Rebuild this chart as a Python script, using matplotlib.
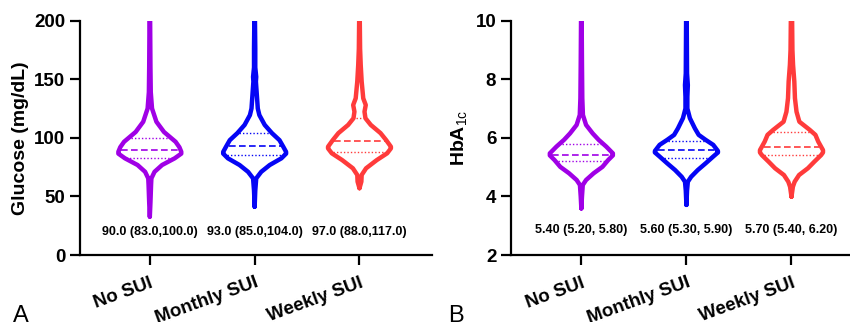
import matplotlib.pyplot as plt
import numpy as np

plt.rcParams['font.family'] = ['Liberation Sans', 'DejaVu Sans']
plt.rcParams['mathtext.fontset'] = 'custom'
plt.rcParams['mathtext.rm'] = 'Liberation Sans'
plt.rcParams['mathtext.bf'] = 'Liberation Sans:bold'

groups = ['No SUI', 'Monthly SUI', 'Weekly SUI']
colors = ['#A000E6', '#0505F5', '#FF3B3B']

# glucose: median, q1, q3
glu_med = [90.0, 93.0, 97.0]
glu_q1 = [83.0, 85.0, 88.0]
glu_q3 = [100.0, 104.0, 117.0]
glu_text = ['90.0 (83.0,100.0)', '93.0 (85.0,104.0)', '97.0 (88.0,117.0)']

# violin outlines: levels and relative half width
glu_levels = [
    [32.7, 45, 60, 65.4, 71, 76.8, 82.5, 86.5, 88.1, 92, 96.6, 105, 113.7, 125, 139, 160, 200],
    [41.2, 55, 65.4, 71, 76.8, 82.5, 86.5, 88, 92.4, 98, 104, 111, 119.4, 125, 136.5, 148, 152, 160, 176, 200],
    [57, 62.6, 68.3, 74, 81, 86.8, 91, 92.4, 98, 104, 111, 116.7, 122.3, 128, 133.7, 148, 162, 176, 200],
]
glu_width = [
    [0.0, 0.02, 0.04, 0.05, 0.15, 0.39, 0.79, 1.0, 1.0, 0.94, 0.82, 0.45, 0.21, 0.07, 0.03, 0.02, 0.01],
    [0.0, 0.02, 0.05, 0.21, 0.48, 0.85, 1.0, 1.0, 0.91, 0.79, 0.55, 0.32, 0.15, 0.10, 0.07, 0.04, 0.05, 0.02, 0.02, 0.01],
    [0.0, 0.06, 0.07, 0.21, 0.55, 0.88, 1.0, 1.0, 0.85, 0.67, 0.36, 0.19, 0.16, 0.20, 0.12, 0.07, 0.04, 0.02, 0.01],
]

# HbA1c: median, q1, q3
hba_med = [5.40, 5.60, 5.70]
hba_q1 = [5.20, 5.30, 5.40]
hba_q3 = [5.80, 5.90, 6.20]
hba_text = ['5.40 (5.20, 5.80)', '5.60 (5.30, 5.90)', '5.70 (5.40, 6.20)']

hba_levels = [
    [3.59, 4.0, 4.39, 4.56, 4.79, 5.01, 5.24, 5.4, 5.47, 5.70, 5.93, 6.15, 6.44, 6.78, 7.35, 8.5, 10],
    [3.71, 4.2, 4.50, 4.67, 4.90, 5.13, 5.36, 5.50, 5.55, 5.76, 5.93, 6.10, 6.32, 6.67, 7.0, 7.4, 7.8, 8.2, 10],
    [3.99, 4.33, 4.50, 4.73, 4.96, 5.19, 5.41, 5.50, 5.58, 5.87, 6.10, 6.27, 6.55, 6.89, 7.35, 7.92, 8.49, 9.0, 10],
]
hba_width = [
    [0.0, 0.02, 0.045, 0.15, 0.39, 0.67, 0.85, 1.0, 1.0, 0.79, 0.55, 0.36, 0.15, 0.05, 0.03, 0.02, 0.01],
    [0.0, 0.02, 0.045, 0.15, 0.36, 0.61, 0.85, 1.0, 1.0, 0.85, 0.61, 0.39, 0.27, 0.11, 0.03, 0.03, 0.045, 0.02, 0.01],
    [0.0, 0.045, 0.10, 0.24, 0.52, 0.73, 0.94, 1.0, 1.0, 0.85, 0.76, 0.58, 0.25, 0.16, 0.11, 0.09, 0.05, 0.03, 0.02],
]

half_w = 0.30


def draw_panel(ax, levels, widths, med, q1, q3, texts, text_y):
    x = np.arange(1, len(groups) + 1)
    for i in range(len(groups)):
        lv = np.array(levels[i])
        w = np.array(widths[i]) * half_w
        c = colors[i]
        xs = np.concatenate([x[i] + w, (x[i] - w)[::-1]])
        ys = np.concatenate([lv, lv[::-1]])
        ax.plot(xs, ys, color=c, lw=3.2, solid_joinstyle='round', solid_capstyle='round', zorder=3)
        for val, ls, lw in [(med[i], (0, (4, 2)), 1.2), (q1[i], (0, (1, 1.5)), 1.0), (q3[i], (0, (1, 1.5)), 1.0)]:
            ww = np.interp(val, lv, w) - 0.02
            ax.plot([x[i] - ww, x[i] + ww], [val, val], color=c, lw=lw, linestyle=ls, zorder=2)
        ax.text(x[i], text_y, texts[i], ha='center', va='center', fontsize=9, fontweight='bold')
    ax.set_xticks(x)
    ax.set_xticklabels(groups, rotation=20, ha='right', rotation_mode='anchor',
                       fontsize=13, fontweight='bold')
    for s in ['top', 'right']:
        ax.spines[s].set_visible(False)
    for s in ['left', 'bottom']:
        ax.spines[s].set_linewidth(1.6)
    ax.tick_params(axis='both', width=1.6, length=7, labelsize=13.5)
    ax.tick_params(axis='x', length=7, pad=7)


fig = plt.figure(figsize=(8.5, 3.22), dpi=100)
ax1 = fig.add_axes([0.094, 0.208, 0.414, 0.728])
ax2 = fig.add_axes([0.601, 0.208, 0.399, 0.728])

draw_panel(ax1, glu_levels, glu_width, glu_med, glu_q1, glu_q3, glu_text, 20)
ax1.set_ylim(0, 200)
ax1.set_yticks([0, 50, 100, 150, 200])
ax1.set_xlim(0.333, 3.69)
ax1.set_ylabel('Glucose (mg/dL)', fontsize=14, fontweight='bold')
for lab in ax1.get_yticklabels():
    lab.set_fontweight('bold')

draw_panel(ax2, hba_levels, hba_width, hba_med, hba_q1, hba_q3, hba_text, 2.85)
ax2.set_ylim(2, 10)
ax2.set_yticks([2, 4, 6, 8, 10])
ax2.set_xlim(0.329, 3.557)
ax2.set_ylabel(r'HbA$_{\mathrm{1c}}$', fontsize=14, fontweight='bold')
for lab in ax2.get_yticklabels():
    lab.set_fontweight('bold')

fig.text(0.015, 0.0, 'A', fontsize=17, ha='left', va='baseline')
fig.text(0.527, 0.0, 'B', fontsize=17, ha='left', va='baseline')

fig.savefig('out.png', dpi=100)
